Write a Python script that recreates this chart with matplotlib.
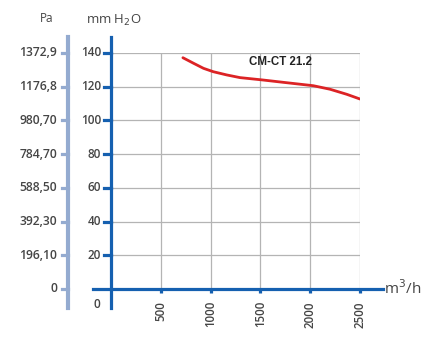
import numpy as np
import matplotlib.pyplot as plt

# data
flow = [722, 829, 929, 1027, 1161, 1295, 1523, 1730, 2031, 2199, 2367, 2500]           # m3/h
press = [137.2, 133.9, 130.9, 128.9, 127.0, 125.4, 124.0, 122.6, 120.6, 118.5, 115.5, 112.7]  # mm H2O
mm_ticks = [20, 40, 60, 80, 100, 120, 140]
pa_ticks = [0, 20, 40, 60, 80, 100, 120, 140]
pa_labels = ["0", "196,10", "392,30", "588,50", "784,70", "980,70", "1176,8", "1372,9"]
x_ticks = [500, 1000, 1500, 2000, 2500]
model = "CM-CT 21.2"

DARK = "#1560b0"
LIGHT = "#94abd0"
GRID = "#b4b4b4"
RED = "#dc2325"
TXT = "#454545"

W, H = 425, 352
plt.rcParams["font.family"] = ["Open Sans", "DejaVu Sans"]
fig = plt.figure(figsize=(W / 100, H / 100), dpi=100)

# plot area in pixels: x 0 -> 111px, 2500 -> 360px ; y 0 -> 289px, 140 -> 53px
ax = fig.add_axes([111 / W, (H - 289) / H, 249 / W, 236 / H])
ax.set_xlim(0, 2500)
ax.set_ylim(0, 140)
ax.axis("off")

sx = 2500 / 249.0   # data units per pixel
sy = 140 / 236.0
fw = "semibold"

# grid
for xv in x_ticks:
    ax.plot([xv, xv], [0, 140], color=GRID, lw=0.9, zorder=1)
for yv in mm_ticks:
    ax.plot([0, 2500], [yv, yv], color=GRID, lw=0.9, zorder=1)

# fan curve
ax.plot(flow, press, color=RED, lw=2.0, solid_capstyle="round",
        solid_joinstyle="round", zorder=3)
ax.text(1697, 134.7, model, fontsize=8.3, fontweight="bold", color="#222222",
        ha="center", va="center", family=["Arial", "Liberation Sans", "DejaVu Sans"])

# main axes lines
ax.plot([0, 0], [-19 * sy, 252 * sy], color=DARK, lw=2.3, clip_on=False, zorder=4)
ax.plot([-18 * sx, 272 * sx], [0, 0], color=DARK, lw=2.3, clip_on=False, zorder=4)

# mm H2O ticks + labels
for yv in mm_ticks:
    ax.plot([-7 * sx, 0], [yv, yv], color=DARK, lw=2.3, clip_on=False, zorder=4)
    ax.text(-10 * sx, yv, str(yv), fontsize=8.5, fontweight=fw, color=TXT,
            ha="right", va="center")
ax.text(-14 * sx, -15 * sy, "0", fontsize=8.5, fontweight=fw, color=TXT,
        ha="center", va="center")

# x ticks + labels
for xv in x_ticks:
    ax.plot([xv, xv], [0, -3.5 * sy], color=DARK, lw=2.3, clip_on=False, zorder=4,
            solid_capstyle="butt")
    ax.text(xv, -12 * sy, str(xv), fontsize=8.3, fontweight=fw, color=TXT,
            rotation=90, ha="center", va="top")
ax.text(273 * sx, 0, "m$^3$/h", fontsize=11, color=TXT, ha="left", va="center")

# Pa axis
pa_x = -43 * sx
ax.plot([pa_x, pa_x], [-19 * sy, 252 * sy], color=LIGHT, lw=3.0, clip_on=False)
for yv, lab in zip(pa_ticks, pa_labels):
    ax.plot([pa_x - 6 * sx, pa_x], [yv, yv], color=LIGHT, lw=2.3, clip_on=False)
    ax.text(pa_x - 11 * sx, yv, lab, fontsize=8.7, fontweight=fw, color=TXT,
            ha="right", va="center")

# unit titles
ax.text(-64 * sx, 270 * sy, "Pa", fontsize=8.5, color=TXT, ha="center", va="center")
ax.text(3 * sx, 269 * sy, "mm H$_2$O", fontsize=9.5, color=TXT, ha="center", va="center")

fig.savefig("out.png", dpi=100)
